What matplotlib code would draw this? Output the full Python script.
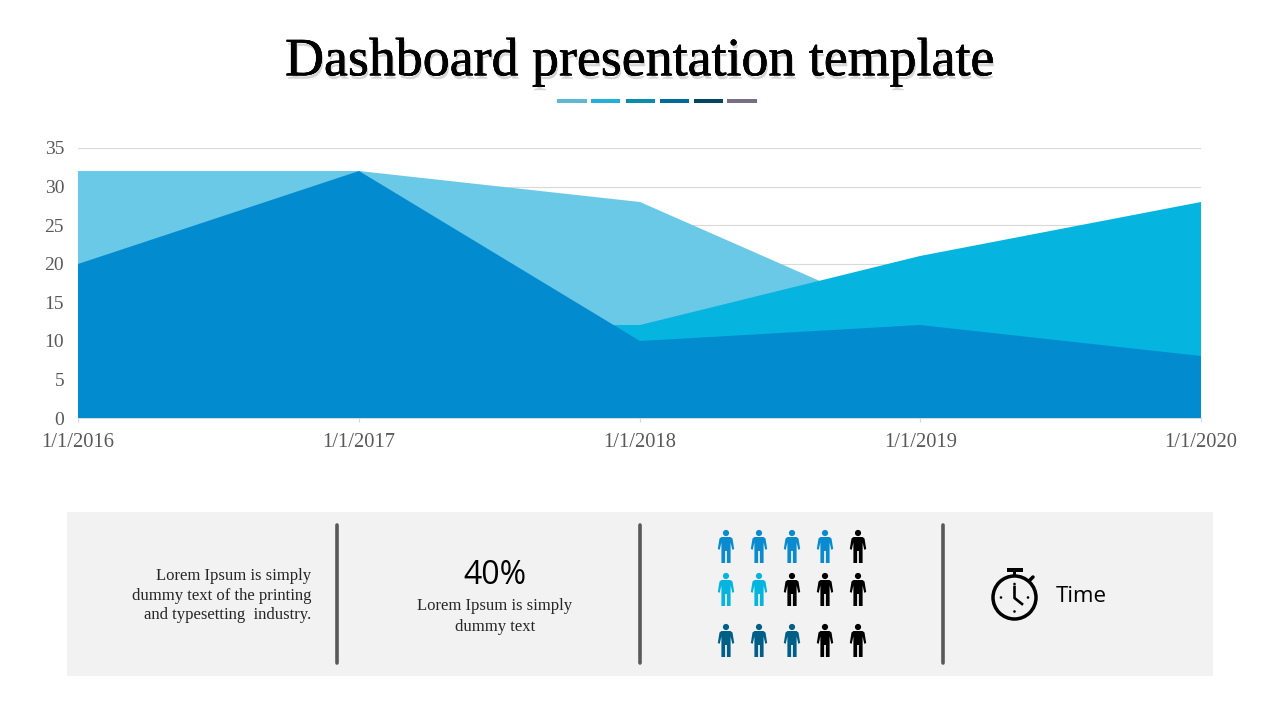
import numpy as np
import matplotlib
matplotlib.use('Agg')
import matplotlib.pyplot as plt
import matplotlib.patheffects as pe
from matplotlib.patches import Rectangle, Circle, Polygon

# ── Chart data ────────────────────────────────────────────────
dates    = ['1/1/2016', '1/1/2017', '1/1/2018', '1/1/2019', '1/1/2020']
series_a = [32, 32, 28, 12, 12]   # back, last value is hidden
series_b = [12, 12, 12, 21, 28]   # middle
series_c = [20, 32, 10, 12, 8]    # front
y_ticks  = [0, 5, 10, 15, 20, 25, 30, 35]

# people rows
people_colors = [
    ['#0a8bd0', '#0a8bd0', '#0a8bd0', '#0a8bd0', '#000000'],
    ['#05b5df', '#05b5df', '#000000', '#000000', '#000000'],
    ['#005f87', '#005f87', '#005f87', '#000000', '#000000'],
]
dash_colors = ['#5fb8d2', '#22b1da', '#0b8caf', '#006a9c', '#00465f', '#796e84']

W, H = 1280, 720
SERIF = 'Liberation Serif'
SANS = 'Open Sans'

fig = plt.figure(figsize=(12.8, 7.2), dpi=100, facecolor='white')

# overlay in pixel coordinates for the slide furniture
bg = fig.add_axes([0, 0, 1, 1], zorder=0)
bg.set_xlim(0, W)
bg.set_ylim(H, 0)
bg.axis('off')

# ── Area chart ────────────────────────────────────────────────
ax = fig.add_axes([78 / W, 1 - 418 / H, (1201 - 78) / W, 270 / H], zorder=1)
ax.patch.set_alpha(0)
x = np.arange(len(dates))
ax.fill_between(x, 0, series_a, color='#69c9e6', lw=0, zorder=2)
ax.fill_between(x, 0, series_b, color='#05b5df', lw=0, zorder=3)
ax.fill_between(x, 0, series_c, color='#038bd0', lw=0, zorder=4)
for c in ax.collections:
    c.set_snap(True)

ax.set_xlim(0, 4)
ax.set_ylim(0, 35)
ax.set_xticks(x)
ax.set_xticklabels(dates, family=SERIF, fontsize=14.8, color='#595959')
ax.set_yticks(y_ticks)
ax.set_yticklabels([str(t) for t in y_ticks], family=SERIF, fontsize=14, color='#595959',
                   va='center_baseline')
ax.tick_params(axis='y', length=0, pad=10)
ax.tick_params(axis='x', length=3, width=0.8, color='#d9d9d9', pad=8)
ax.grid(axis='y', color='#d9d9d9', lw=0.8, zorder=1)
ax.set_axisbelow(True)
for s in ['top', 'right', 'left']:
    ax.spines[s].set_visible(False)
ax.spines['bottom'].set_color('#d9d9d9')

# ── Title ─────────────────────────────────────────────────────
bg.text(640, 62, 'Dashboard presentation template', family=SERIF, fontsize=38.8,
        ha='center', va='center', color='black',
        path_effects=[pe.withSimplePatchShadow(offset=(1, -2.5), shadow_rgbFace='#888888', alpha=0.35),
                      pe.withStroke(linewidth=0.4, foreground='black')])
dash_x = [(557, 587), (591, 620), (626, 655), (660, 689), (694, 723), (727, 757)]
for (x0, x1), col in zip(dash_x, dash_colors):
    bg.add_patch(Rectangle((x0, 99), x1 - x0, 4, color=col, lw=0))

# ── Bottom panel ──────────────────────────────────────────────
bg.add_patch(Rectangle((67, 512), 1146, 164, color='#f2f2f2', lw=0))
for sx in [337, 640, 943]:
    bg.plot([sx, sx], [525, 663], color='#595959', lw=2.6, solid_capstyle='round')

for ty, line in zip([576, 596, 615], ['Lorem Ipsum is simply', 'dummy text of the printing',
                                      'and typesetting  industry.']):
    bg.text(311, ty, line, family=SERIF, fontsize=12, color='#262626', ha='right', va='center')
bg.text(495, 575, '40%', family=SANS, fontsize=23, color='black', ha='center', va='center')
for ty, line in zip([606, 627], ['Lorem Ipsum is simply', 'dummy text']):
    bg.text(495, ty, line, family=SERIF, fontsize=12, color='#262626', ha='center', va='center')
bg.text(1056, 597, 'Time', family=SANS, fontsize=16, color='black', ha='left', va='center')

# ── People icons ──────────────────────────────────────────────
half = [(0, 4), (4.5, 4), (6.5, 5.5), (8.2, 16), (6.3, 16.8), (4.6, 9.5), (4.6, 30), (0.9, 30), (0.9, 18), (0, 18)]

def draw_person(cx, head_y, col):
    pts = [(cx + px, head_y + py) for px, py in half]
    pts += [(cx - px, head_y + py) for px, py in half[::-1]]
    bg.add_patch(Polygon(pts, closed=True, color=col, lw=0))
    bg.add_patch(Circle((cx, head_y), 3.1, color=col, lw=0))

col_x = [726, 759, 792, 825, 858]
row_y = [533, 576, 627]
for ry, cols in zip(row_y, people_colors):
    for cx, c in zip(col_x, cols):
        draw_person(cx, ry, c)

# ── Stopwatch ─────────────────────────────────────────────────
cx, cy = 1014.5, 597.5
bg.add_patch(Circle((cx, cy), 21.5, fill=False, ec='black', lw=2.5))
bg.add_patch(Rectangle((1006.5, 568), 16, 3.5, color='black', lw=0))
bg.add_patch(Rectangle((1012.8, 571), 3.4, 5, color='black', lw=0))
bg.plot([1029, 1033], [581, 577], color='black', lw=2.5, solid_capstyle='round')
bg.plot([cx, cx, 1022], [587, 598, 604], color='black', lw=1.9)
for dx, dy in [(0, -13.5), (0, 14), (-13.5, 0), (13.5, 0)]:
    bg.add_patch(Circle((cx + dx, cy + dy), 1.3, color='black', lw=0))

fig.savefig('out.png', dpi=100)
